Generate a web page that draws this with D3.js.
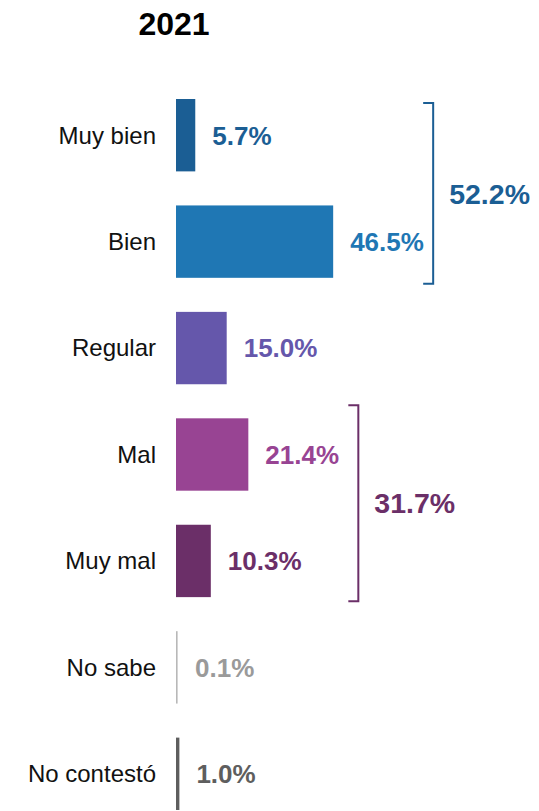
<!DOCTYPE html>
<html>
<head>
<meta charset="utf-8">
<script src="https://cdn.jsdelivr.net/npm/d3@7"></script>
<style>
  body { margin: 0; background: #fff; }
  svg { display: block; font-family: "Liberation Sans", Arial, sans-serif; }
</style>
</head>
<body>
<svg width="539" height="811"></svg>
<script>
// data
const categories = ["Muy bien", "Bien", "Regular", "Mal", "Muy mal", "No sabe", "No contestó"];
const values = [5.7, 46.5, 15.0, 21.4, 10.3, 0.1, 1.0];
const barColors = ["#1b5e94", "#1f77b4", "#6557ab", "#984493", "#6b2f68", "#b8b8b8", "#5e5e5e"];
const labelColors = ["#1b5e94", "#1f77b4", "#6557ab", "#984493", "#6b2f68", "#9a9a9a", "#5e5e5e"];
const groupMembers = [["Muy bien", "Bien"], ["Mal", "Muy mal"]];
const groupTotals = [52.2, 31.7];
const groupColors = ["#1b5e94", "#6b2f68"];
const title = "2021";

const svg = d3.select("svg");

const x = d3.scaleLinear()
    .domain([0, 100])
    .range([176, 176 + 338]);

const y = d3.scaleBand()
    .domain(categories)
    .range([99, 810])
    .paddingInner(0.32)
    .paddingOuter(0);

const data = categories.map((c, i) => ({cat: c, val: values[i], i: i}));

// title
svg.append("text")
    .attr("x", 174)
    .attr("y", 35)
    .attr("text-anchor", "middle")
    .style("font-size", "32px")
    .style("font-weight", "bold")
    .style("fill", "#000")
    .text(title);

// bars
svg.selectAll(".bar")
    .data(data)
    .enter().append("rect")
    .attr("class", "bar")
    .attr("x", x(0))
    .attr("y", d => y(d.cat))
    .attr("width", d => Math.max(x(d.val) - x(0), 1.6))
    .attr("height", y.bandwidth())
    .attr("fill", d => barColors[d.i]);

// category labels
svg.selectAll(".cat")
    .data(data)
    .enter().append("text")
    .attr("class", "cat")
    .attr("x", x(0) - 20)
    .attr("y", d => y(d.cat) + y.bandwidth() / 2)
    .attr("dy", "0.35em")
    .attr("text-anchor", "end")
    .style("font-size", "24px")
    .style("fill", "#111")
    .text(d => d.cat);

// value labels
svg.selectAll(".val")
    .data(data)
    .enter().append("text")
    .attr("class", "val")
    .attr("x", d => Math.max(x(d.val), x(0) + 2) + 17)
    .attr("y", d => y(d.cat) + y.bandwidth() / 2)
    .attr("dy", "0.36em")
    .style("font-size", "26px")
    .style("font-weight", "bold")
    .style("fill", d => labelColors[d.i])
    .text(d => d.val.toFixed(1) + "%");

// brackets for grouped totals
const offsets = [100, 110];
groupMembers.forEach((g, k) => {
    const maxVal = d3.max(g, c => values[categories.indexOf(c)]);
    const bx = x(maxVal) + offsets[k];
    const top = y(g[0]) + (k === 0 ? 4 : -13);
    const bottom = y(g[g.length - 1]) + y.bandwidth() + (k === 0 ? 6 : 4);
    svg.append("path")
        .attr("d", `M${bx - 10},${top} H${bx} V${bottom} H${bx - 10}`)
        .attr("fill", "none")
        .attr("stroke", groupColors[k])
        .attr("stroke-width", 2);
    svg.append("text")
        .attr("x", bx + 16)
        .attr("y", (top + bottom) / 2)
        .attr("dy", "0.36em")
        .style("font-size", "28.5px")
        .style("font-weight", "bold")
        .style("fill", groupColors[k])
        .text(groupTotals[k].toFixed(1) + "%");
});
</script>
</body>
</html>
